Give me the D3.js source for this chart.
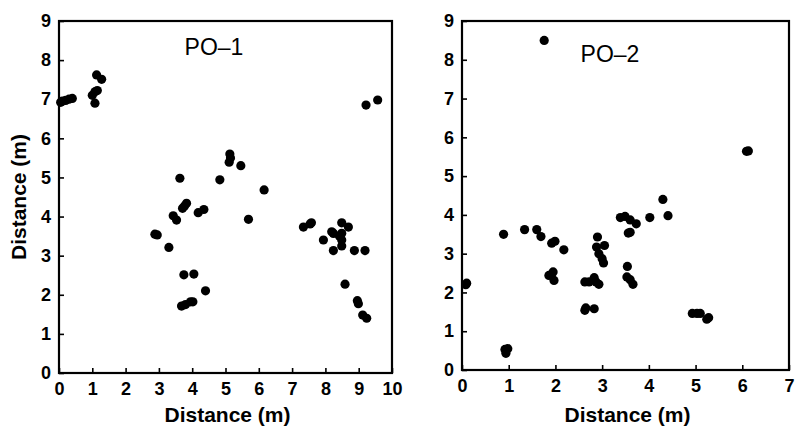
<!DOCTYPE html>
<html>
<head>
<meta charset="utf-8">
<script src="https://cdn.jsdelivr.net/npm/d3@7"></script>
<style>
  body { margin: 0; background: #fff; }
  svg { display: block; font-family: "Liberation Sans", Arial, sans-serif; }
</style>
</head>
<body>
<script>
// PO-1 points (distance in m)
const po1X = [0.05, 0.10, 0.20, 0.30, 0.40, 1.00, 1.08, 1.15, 1.08, 1.13, 1.28, 9.22, 9.57,
  3.63, 5.13, 5.11, 5.15, 5.46, 4.83, 6.16, 3.71, 3.83, 3.77, 4.18, 4.35, 3.43, 3.53, 5.69,
  2.88, 2.95, 3.30, 3.75, 4.05, 4.40, 3.68, 3.80, 3.95, 4.02, 7.34, 7.54, 7.58, 7.94, 8.19,
  8.24, 8.24, 8.42, 8.49, 8.49, 8.49, 8.49, 8.69, 8.87, 9.19, 8.59, 8.96, 8.99, 9.12, 9.24];
const po1Y = [6.92, 6.95, 6.97, 7.00, 7.02, 7.10, 7.19, 7.22, 6.90, 7.62, 7.51, 6.85, 6.98,
  4.98, 5.60, 5.39, 5.50, 5.30, 4.94, 4.68, 4.21, 4.34, 4.27, 4.10, 4.18, 4.02, 3.91, 3.93,
  3.55, 3.53, 3.21, 2.51, 2.53, 2.10, 1.71, 1.75, 1.82, 1.82, 3.73, 3.81, 3.84, 3.40, 3.61,
  3.57, 3.13, 3.50, 3.57, 3.40, 3.25, 3.84, 3.73, 3.13, 3.13, 2.27, 1.85, 1.77, 1.48, 1.40];

// PO-2 points (distance in m)
const po2X = [1.76, 6.09, 6.13, 4.30, 3.39, 3.49, 3.60, 3.73, 4.02, 4.41, 3.56, 3.60, 0.89,
  1.34, 1.60, 1.69, 1.92, 1.99, 2.18, 2.90, 2.88, 3.05, 2.93, 3.00, 3.03, 0.10, 0.08, 1.86,
  1.95, 1.97, 2.63, 2.72, 2.83, 2.87, 2.93, 3.54, 3.53, 3.60, 3.66, 2.63, 2.65, 2.83, 4.93,
  5.03, 5.10, 5.28, 5.24, 0.92, 0.94, 0.98];
const po2Y = [8.50, 5.64, 5.65, 4.40, 3.93, 3.96, 3.87, 3.77, 3.93, 3.98, 3.53, 3.55, 3.50,
  3.62, 3.62, 3.44, 3.27, 3.32, 3.10, 3.43, 3.17, 3.21, 3.00, 2.87, 2.76, 2.24, 2.20, 2.44,
  2.53, 2.31, 2.27, 2.27, 2.38, 2.27, 2.21, 2.67, 2.40, 2.33, 2.21, 1.54, 1.60, 1.58, 1.46,
  1.46, 1.46, 1.35, 1.31, 0.53, 0.43, 0.55];

const xTicks1 = [0, 1, 2, 3, 4, 5, 6, 7, 8, 9, 10];
const xTicks2 = [0, 1, 2, 3, 4, 5, 6, 7];
const yTicks = [0, 1, 2, 3, 4, 5, 6, 7, 8, 9];

const W = 801, H = 426;
const svg = d3.select("body").append("svg")
  .attr("width", W)
  .attr("height", H);

const styleTicks = (a) => {
  a.select(".domain").remove();
  a.selectAll("line").attr("stroke-width", 1.6);
  a.selectAll("text")
    .attr("font-size", 18)
    .attr("font-weight", "bold")
    .attr("font-family", "Liberation Sans, Arial, sans-serif")
    .attr("fill", "#000");
};

const drawPanel = (opts) => {
  const x = d3.scaleLinear().domain([0, d3.max(opts.xTicks)]).range([opts.left, opts.right]);
  const y = d3.scaleLinear().domain([0, 9]).range([opts.bottom, opts.top]);
  const g = svg.append("g");

  g.append("g")
    .attr("transform", "translate(0," + opts.bottom + ")")
    .call(d3.axisBottom(x).tickValues(opts.xTicks).tickFormat(d3.format("d"))
      .tickSizeInner(-5).tickSizeOuter(0).tickPadding(9))
    .call(styleTicks);

  g.append("g")
    .attr("transform", "translate(" + opts.left + ",0)")
    .call(d3.axisLeft(y).tickValues(yTicks).tickFormat(d3.format("d"))
      .tickSizeInner(-5).tickSizeOuter(0).tickPadding(8))
    .call(styleTicks);

  // frame
  g.append("rect")
    .attr("x", opts.left)
    .attr("y", opts.top)
    .attr("width", opts.right - opts.left)
    .attr("height", opts.bottom - opts.top)
    .attr("fill", "none")
    .attr("stroke", "#000")
    .attr("stroke-width", 2.2);

  g.selectAll("circle")
    .data(opts.xs.map((v, i) => [v, opts.ys[i]]))
    .enter()
    .append("circle")
    .attr("cx", d => x(d[0]))
    .attr("cy", d => y(d[1]))
    .attr("r", 4.6)
    .attr("fill", "#000");

  g.append("text")
    .attr("x", opts.titleX)
    .attr("y", opts.titleY)
    .attr("text-anchor", "middle")
    .attr("font-size", 23)
    .text(opts.title);

  g.append("text")
    .attr("x", (opts.left + opts.right) / 2 + 2)
    .attr("y", 422)
    .attr("text-anchor", "middle")
    .attr("font-size", 21)
    .attr("font-weight", "bold")
    .text("Distance (m)");
};

drawPanel({ left: 59, right: 392, top: 21, bottom: 373, xTicks: xTicks1,
  xs: po1X, ys: po1Y, title: "PO–1", titleX: 214, titleY: 55 });
drawPanel({ left: 462, right: 789, top: 21, bottom: 370, xTicks: xTicks2,
  xs: po2X, ys: po2Y, title: "PO–2", titleX: 610, titleY: 62 });

svg.append("text")
  .attr("transform", "translate(26,197) rotate(-90)")
  .attr("text-anchor", "middle")
  .attr("font-size", 21)
  .attr("font-weight", "bold")
  .text("Distance (m)");
</script>
</body>
</html>
